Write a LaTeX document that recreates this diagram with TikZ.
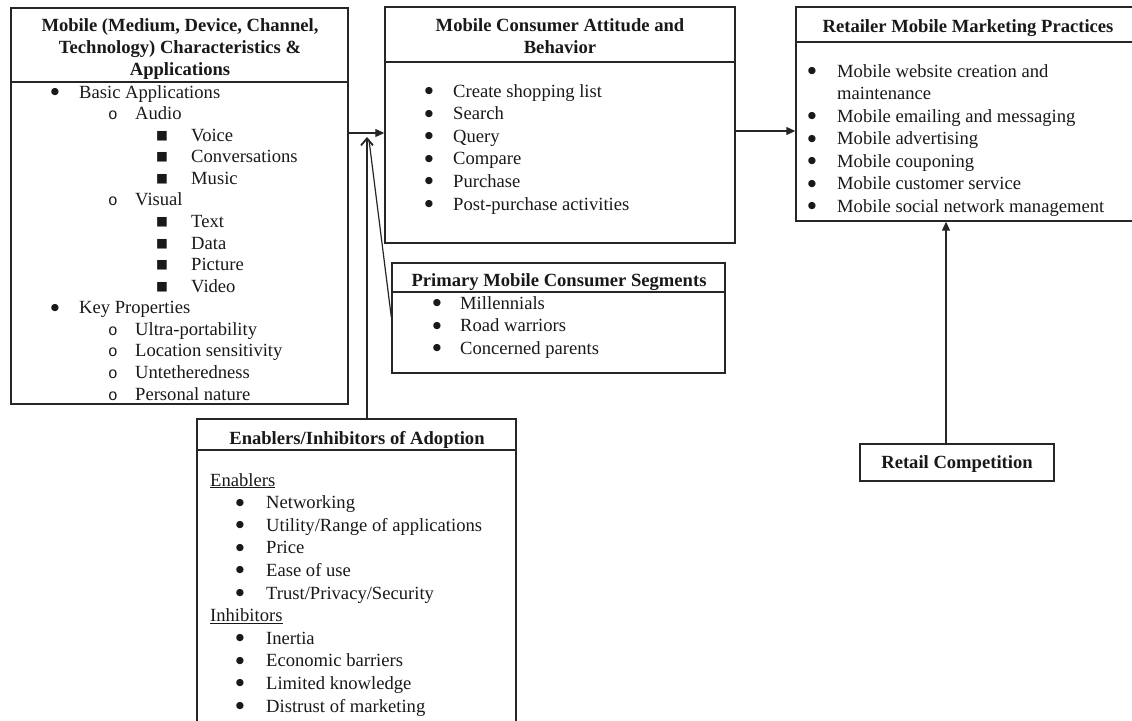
\documentclass[tikz,border=0pt]{standalone}
\usepackage{fontspec}
\setmainfont{Liberation Serif}
\newfontfamily\monofam{Liberation Mono}
\newfontfamily\dvfam{DejaVu Sans}
\usetikzlibrary{arrows.meta,calc}
\newcommand\fsz{\fontsize{18.6}{22.6}\selectfont}
\newcommand\bitem[4]{\node[txt,anchor=base,font=\fontsize{9.5}{9.5}\selectfont] at ($(#1,#3)+(0,-3.5)$) {\dvfam ●};\node[txt,anchor=base west] at (#2,#3) {#4};}
\newcommand\oitem[4]{\node[txt,anchor=base,font=\fontsize{16}{16}\selectfont] at (#1,#3) {\monofam o};\node[txt,anchor=base west] at (#2,#3) {#4};}
\newcommand\sitem[4]{\node[txt,anchor=base,font=\fontsize{12.5}{12.5}\selectfont] at ($(#1,#3)+(0,-2)$) {\dvfam ■};\node[txt,anchor=base west] at (#2,#3) {#4};}
\tikzset{
  box/.style={draw=black!85,line width=1.4pt,inner sep=0pt,rectangle},
  txt/.style={inner sep=0pt,font=\fsz,text=black!90},
  ttl/.style={inner sep=0pt,font=\fsz\bfseries,text=black!90},
  sep/.style={draw=black!85,line width=1.4pt},
  arr/.style={draw=black!85,line width=1.2pt,-{Triangle[length=9pt,width=8pt]}},
  barb/.style={draw=black!85,line width=1.2pt,-{Straight Barb[length=7pt,width=12pt,line width=1.8pt]}},
  plain/.style={draw=black!85,line width=1.2pt}
}
\begin{document}
\begin{tikzpicture}[x=1pt,y=-1pt]
\useasboundingbox (0,0) rectangle (1132,720);
% boxes
\node[box,minimum width=337pt,minimum height=396pt] (mob) at (179.5,206) {};
\node[box,minimum width=350pt,minimum height=236pt] (cons) at (560,125) {};
\node[box,minimum width=340pt,minimum height=214pt] (ret) at (966,114) {};
\node[box,minimum width=333pt,minimum height=110pt] (seg) at (558.5,318) {};
\node[box,minimum width=319pt,minimum height=307pt] (enab) at (356.5,572.5) {};
\node[box,minimum width=194pt,minimum height=37pt] (comp) at (957,462.5) {};
% separators
\draw[sep] (mob.west |- 0,82) -- (mob.east |- 0,82);
\draw[sep] (cons.west |- 0,62) -- (cons.east |- 0,62);
\draw[sep] (ret.west |- 0,42) -- (ret.east |- 0,42);
\draw[sep] (seg.west |- 0,292) -- (seg.east |- 0,292);
\draw[sep] (enab.west |- 0,450) -- (enab.east |- 0,450);
% titles
\node[ttl,anchor=base] (t1a) at (180,31) {Mobile (Medium, Device, Channel,};
\node[ttl,anchor=base] (t1b) at (180,53) {Technology) Characteristics \&};
\node[ttl,anchor=base] (t1c) at (180,75) {Applications};
\node[ttl,anchor=base] (t2a) at (560,31) {Mobile Consumer Attitude and};
\node[ttl,anchor=base] (t2b) at (560,53) {Behavior};
\node[ttl,anchor=base] (t3) at (968,32) {Retailer Mobile Marketing Practices};
\node[ttl,anchor=base] (t4) at (559,286) {Primary Mobile Consumer Segments};
\node[ttl,anchor=base] (t5) at (357,444) {Enablers/Inhibitors of Adoption};
\node[ttl,anchor=base] (t6) at (957,468) {Retail Competition};
% box 1 items
\bitem{55}{79}{98}{Basic Applications}
\oitem{113}{135}{119.6}{Audio}
\sitem{162}{191}{141.1}{Voice}
\sitem{162}{191}{162.7}{Conversations}
\sitem{162}{191}{184.3}{Music}
\oitem{113}{135}{205.9}{Visual}
\sitem{162}{191}{227.4}{Text}
\sitem{162}{191}{249}{Data}
\sitem{162}{191}{270.6}{Picture}
\sitem{162}{191}{292.1}{Video}
\bitem{55}{79}{313.7}{Key Properties}
\oitem{113}{135}{335.3}{Ultra-portability}
\oitem{113}{135}{356.8}{Location sensitivity}
\oitem{113}{135}{378.4}{Untetheredness}
\oitem{113}{135}{400}{Personal nature}
% box 2 items
\bitem{429}{453}{97}{Create shopping list}
\bitem{429}{453}{119.6}{Search}
\bitem{429}{453}{142.2}{Query}
\bitem{429}{453}{164.8}{Compare}
\bitem{429}{453}{187.4}{Purchase}
\bitem{429}{453}{210}{Post-purchase activities}
% box 3 items
\bitem{812}{837}{77}{Mobile website creation and}
\node[txt,anchor=base west] at (837,99.5) {maintenance};
\bitem{812}{837}{122}{Mobile emailing and messaging}
\bitem{812}{837}{144.5}{Mobile advertising}
\bitem{812}{837}{167}{Mobile couponing}
\bitem{812}{837}{189.5}{Mobile customer service}
\bitem{812}{837}{212}{Mobile social network management}
% box 4 items
\bitem{437}{460}{309}{Millennials}
\bitem{437}{460}{331.5}{Road warriors}
\bitem{437}{460}{354}{Concerned parents}
% box 5 items
\node[txt,anchor=base west] (en) at (210,486) {\underline{Enablers}};
\bitem{240}{266}{508.6}{Networking}
\bitem{240}{266}{531.2}{Utility/Range of applications}
\bitem{240}{266}{553.8}{Price}
\bitem{240}{266}{576.4}{Ease of use}
\bitem{240}{266}{599}{Trust/Privacy/Security}
\node[txt,anchor=base west] (in) at (210,621.6) {\underline{Inhibitors}};
\bitem{240}{266}{644.2}{Inertia}
\bitem{240}{266}{666.8}{Economic barriers}
\bitem{240}{266}{689.4}{Limited knowledge}
\bitem{240}{266}{712}{Distrust of marketing}
% connectors
\coordinate (tip) at (367,137);
\draw[arr] (mob.east |- 0,133) -- (cons.west |- 0,133);
\draw[barb] (enab.north -| tip) -- (tip);
\draw[plain] (seg.west |- 0,317) -- (369,140);
\draw[arr] (cons.east |- 0,131) -- (ret.west |- 0,131);
\draw[arr] (comp.north -| 946,0) -- (ret.south -| 946,0);
\end{tikzpicture}
\end{document}
